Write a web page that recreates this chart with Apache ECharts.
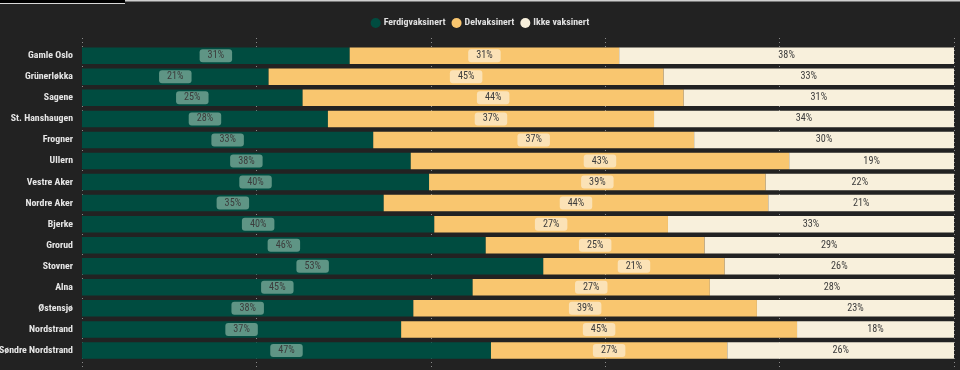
<!DOCTYPE html>
<html>
<head>
<meta charset="utf-8">
<script src="https://cdn.jsdelivr.net/npm/echarts@6/dist/echarts.min.js"></script>
<style>
html,body{margin:0;padding:0;background:#222222;}
#c{width:960px;height:370px;}
</style>
</head>
<body>
<div id="c"></div>
<script>
const categories = ["Gamle Oslo","Grünerløkka","Sagene","St. Hanshaugen","Frogner","Ullern","Vestre Aker","Nordre Aker","Bjerke","Grorud","Stovner","Alna","Østensjø","Nordstrand","Søndre Nordstrand"];
const seriesNames = ["Ferdigvaksinert","Delvaksinert","Ikke vaksinert"];
const ferdig = [30.7, 21.4, 25.3, 28.2, 33.4, 37.7, 39.8, 34.6, 40.4, 46.3, 52.9, 44.8, 38.0, 36.6, 46.9];
const delv   = [30.9, 45.3, 43.7, 37.4, 36.8, 43.4, 38.6, 44.1, 26.8, 25.1, 20.8, 27.2, 39.4, 45.4, 27.1];
const ikke   = [38.4, 33.3, 31.0, 34.4, 29.8, 18.9, 21.6, 21.3, 32.8, 28.6, 26.3, 28.0, 22.6, 18.0, 26.0];
const xTicks = [0, 20, 40, 60, 80, 100];

// pick the narrowest installed font family
const ctx = document.createElement('canvas').getContext('2d');
function isAvail(f) {
  const t = 'Gamle Oslo Søndre 31%';
  let res = false;
  ['monospace', 'serif'].forEach(g => {
    ctx.font = 'bold 20px ' + g; const a = ctx.measureText(t).width;
    ctx.font = "bold 20px '" + f + "', " + g; const b = ctx.measureText(t).width;
    if (Math.abs(a - b) > 0.01) res = true;
  });
  return res;
}
const candidates = ['Liberation Sans Narrow', 'Roboto Condensed', 'Open Sans Condensed', 'DejaVu Sans Condensed', 'Roboto'];
let FAM = 'sans-serif';
for (const f of candidates) { if (isAvail(f)) { FAM = "'" + f + "'"; break; } }
const FONT = FAM + ", sans-serif";
function fitSize(text, weight, target, lo, hi) {
  ctx.font = weight + ' 10px ' + FONT;
  const w = ctx.measureText(text).width;
  return Math.max(lo, Math.min(hi, 10 * target / w));
}
const axisFs = fitSize('Gamle Oslo', 'bold', 45, 9.5, 11);
const legendFs = fitSize('Ferdigvaksinert', 'bold', 62, 9.5, 11);
const valFs = fitSize('31%', 'normal', 16.5, 9, 10.5);

const colors = ['#004c40', '#f9c66f', '#f8f0dc'];
const labelBg = ['#5f9585', '#fbe2b6', 'transparent'];

const chart = echarts.init(document.getElementById('c'), null, {renderer: 'canvas'});

function mkSeries(name, data, i) {
  return {
    name: name,
    type: 'bar',
    stack: 'total',
    xAxisIndex: 0,
    yAxisIndex: 0,
    barWidth: 16.5,
    data: data,
    itemStyle: {color: colors[i]},
    label: {
      show: true,
      position: 'inside',
      formatter: p => Math.round(p.value) + '%',
      fontFamily: FONT,
      fontSize: valFs,
      color: '#3c3c3c',
      backgroundColor: labelBg[i],
      borderRadius: 3,
      padding: [2, 8, 1, 8]
    },
    emphasis: {disabled: true}
  };
}

chart.setOption({
  backgroundColor: '#222222',
  animation: false,
  legend: {
    top: 13,
    left: 'center',
    icon: 'circle',
    itemWidth: 10,
    itemHeight: 10,
    itemGap: 6,
    textStyle: {color: '#e0e0e0', fontFamily: FONT, fontSize: legendFs, fontWeight: 'bold', padding: [0, 0, 0, -2]},
    data: seriesNames
  },
  grid: [
    {left: 82, right: 6, top: 45.2, bottom: 9, containLabel: false, outerBoundsMode: 'none'},
    {left: 82, right: 6, top: 38, bottom: 3, containLabel: false, outerBoundsMode: 'none'}
  ],
  xAxis: [
    {type: 'value', gridIndex: 0, min: xTicks[0], max: xTicks[xTicks.length-1], interval: 20,
     axisLabel: {show: false}, axisLine: {show: false}, axisTick: {show: false}, splitLine: {show: false}},
    {type: 'value', gridIndex: 1, min: xTicks[0], max: xTicks[xTicks.length-1], interval: 20,
     axisLabel: {show: false}, axisLine: {show: false}, axisTick: {show: false},
     splitLine: {show: true, lineStyle: {color: '#8a8a8a', type: [1, 3], width: 1}}}
  ],
  yAxis: [
    {type: 'category', gridIndex: 0, data: categories, inverse: true,
     axisLine: {show: false}, axisTick: {show: false},
     axisLabel: {color: '#e6e6e6', fontFamily: FONT, fontSize: axisFs, fontWeight: 'bold', margin: 9}},
    {type: 'category', gridIndex: 1, data: categories, show: false}
  ],
  series: [
    mkSeries(seriesNames[0], ferdig, 0),
    mkSeries(seriesNames[1], delv, 1),
    mkSeries(seriesNames[2], ikke, 2)
  ],
  graphic: [
    {type: 'rect', shape: {x: 0, y: 0, width: 125, height: 3}, style: {fill: '#000000'}, silent: true},
    {type: 'rect', shape: {x: 0, y: 3, width: 125, height: 1}, style: {fill: '#d8d8d8'}, silent: true},
    {type: 'rect', shape: {x: 125, y: 0, width: 835, height: 1.5}, style: {fill: '#cfcfcf'}, silent: true}
  ]
});
</script>
</body>
</html>
